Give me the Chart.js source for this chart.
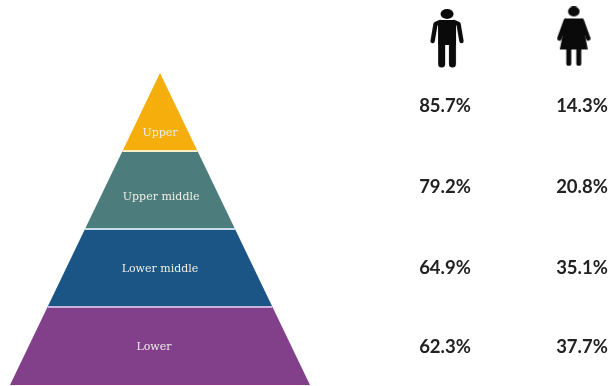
<!DOCTYPE html>
<html>
<head>
<meta charset="utf-8">
<title>Income tiers by gender</title>
<script src="https://cdn.jsdelivr.net/npm/chart.js@4"></script>
<style>
  html, body { margin: 0; background: #fff; }
  canvas { display: block; }
</style>
</head>
<body>
<canvas id="myChart" width="608" height="386"></canvas>
<script>
// tiers from the bottom of the pyramid up
const tiers = ["Lower", "Lower middle", "Upper middle", "Upper"];
const menShare = [62.3, 64.9, 79.2, 85.7];
const womenShare = [37.7, 35.1, 20.8, 14.3];
const tierLevels = [0, 1, 2, 3, 4];
const tierHalfWidths = [4, 3, 2, 1, 0];

const tierColors = ["#823f8a", "#1a5586", "#4c7c7b", "#f6ae0d"];
const lineColors = ["#c9b2dc", "#c6dcea", "#fbeec4"];
const tierLabelY = [0.49, 1.49, 2.41, 3.23];
const tierLabelX = [-0.16, 0, 0.03, 0];
const shareRowY = [0.487, 1.5, 2.54, 3.577];

// little figures drawn once and used as point styles
function figure(draw, w, h) {
  const c = document.createElement("canvas");
  c.width = w;
  c.height = h;
  const g = c.getContext("2d");
  g.fillStyle = "#0a0a0a";
  g.strokeStyle = "#0a0a0a";
  g.lineCap = "round";
  g.lineJoin = "round";
  draw(g);
  return c;
}

const manIcon = figure((g) => {
  g.beginPath();
  g.ellipse(17, 5, 6.5, 5, 0, 0, Math.PI * 2);
  g.fill();
  g.beginPath();
  g.moveTo(10, 11);
  g.lineTo(24, 11);
  g.lineTo(26, 14);
  g.lineTo(26, 36);
  g.lineTo(8, 36);
  g.lineTo(8, 14);
  g.closePath();
  g.fill();
  g.lineWidth = 4.4;
  g.beginPath();
  g.moveTo(10, 13);
  g.lineTo(5.5, 15);
  g.lineTo(2.6, 32);
  g.moveTo(24, 13);
  g.lineTo(28.5, 15);
  g.lineTo(31.4, 32);
  g.stroke();
  g.lineWidth = 7;
  g.beginPath();
  g.moveTo(11.6, 30);
  g.lineTo(11.6, 55);
  g.moveTo(22.4, 30);
  g.lineTo(22.4, 55);
  g.stroke();
}, 34, 60);

const womanIcon = figure((g) => {
  g.beginPath();
  g.ellipse(17, 5, 5.8, 5, 0, 0, Math.PI * 2);
  g.fill();
  g.beginPath();
  g.moveTo(9, 12);
  g.lineTo(25, 12);
  g.lineTo(31, 43);
  g.lineTo(3, 43);
  g.closePath();
  g.fill();
  g.lineWidth = 4.4;
  g.beginPath();
  g.moveTo(9, 14);
  g.lineTo(2.5, 32);
  g.moveTo(25, 14);
  g.lineTo(31.5, 32);
  g.stroke();
  g.lineWidth = 5;
  g.beginPath();
  g.moveTo(12, 43);
  g.lineTo(12, 57);
  g.moveTo(22, 43);
  g.lineTo(22, 57);
  g.stroke();
}, 34, 60);

// one filled trapezoid per tier
const tierDatasets = tiers.map((name, i) => ({
  label: name,
  showLine: true,
  pointRadius: 0,
  pointHoverRadius: 0,
  borderWidth: 0,
  backgroundColor: tierColors[i],
  fill: { target: { value: tierLevels[i] } },
  data: [
    { x: -tierHalfWidths[i], y: tierLevels[i] },
    { x: -tierHalfWidths[i + 1], y: tierLevels[i + 1] },
    { x: tierHalfWidths[i + 1], y: tierLevels[i + 1] },
    { x: tierHalfWidths[i], y: tierLevels[i] },
  ],
  order: 3,
}));

// pale rules between the tiers
const ruleDatasets = lineColors.map((color, i) => ({
  label: "rule " + i,
  showLine: true,
  pointRadius: 0,
  pointHoverRadius: 0,
  borderWidth: 2,
  borderColor: color,
  fill: false,
  data: [
    { x: -tierHalfWidths[i + 1], y: tierLevels[i + 1] },
    { x: tierHalfWidths[i + 1], y: tierLevels[i + 1] },
  ],
  order: 1,
}));

const iconDataset = {
  label: "figures",
  xAxisID: "xShare",
  pointStyle: [manIcon, womanIcon],
  pointRadius: 1,
  pointHoverRadius: 1,
  pointBorderWidth: 0,
  data: [
    { x: 0.015, y: 4.436 },
    { x: 0.94, y: 4.468 },
  ],
  order: 2,
};

// writes the tier names and the two percentage columns
const textPlugin = {
  id: "textPlugin",
  afterDraw(chart) {
    const { ctx, scales } = chart;
    ctx.save();
    ctx.textAlign = "center";
    ctx.textBaseline = "middle";

    ctx.font = '11px "DejaVu Serif"';
    ctx.fillStyle = "#eeeee6";
    tiers.forEach((name, i) => {
      ctx.fillText(name, scales.x.getPixelForValue(tierLabelX[i]), scales.y.getPixelForValue(tierLabelY[i]));
    });

    ctx.font = 'bold 18.5px Lato';
    ctx.fillStyle = "#222";
    [menShare, womenShare].forEach((column, c) => {
      column.forEach((value, i) => {
        ctx.fillText(value.toFixed(1) + "%", scales.xShare.getPixelForValue(c), scales.y.getPixelForValue(shareRowY[i]));
      });
    });
    ctx.restore();
  },
};

new Chart(document.getElementById("myChart"), {
  type: "scatter",
  data: { datasets: [...ruleDatasets, iconDataset, ...tierDatasets] },
  options: {
    responsive: false,
    animation: false,
    events: [],
    layout: { padding: 0 },
    plugins: {
      legend: { display: false },
      title: { display: false },
      tooltip: { enabled: false },
    },
    scales: {
      // the rule width leaves one pixel round the plot area
      x: { type: "linear", display: false, min: (1 - 160) / 37.5, max: (607 - 160) / 37.5 },
      xShare: { type: "linear", axis: "x", display: false, min: (1 - 445) / 137, max: (607 - 445) / 137 },
      y: { type: "linear", display: false, min: 0, max: (385 - 1) / 78 },
    },
  },
  plugins: [textPlugin],
});
</script>
</body>
</html>
